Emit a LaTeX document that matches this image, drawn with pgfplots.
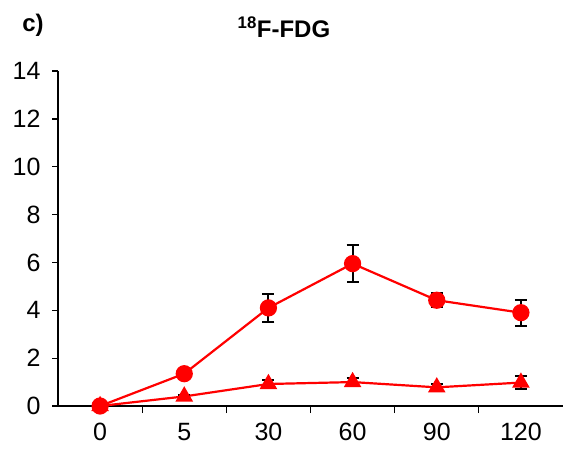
\documentclass[border=0pt]{standalone}
\usepackage{fontspec}
\setmainfont{Liberation Sans}
\usepackage{pgfplots}
\pgfplotsset{compat=1.18}
\usetikzlibrary{calc}
\definecolor{fdgred}{RGB}{255,0,0}

\begin{document}
\begin{tikzpicture}
\begin{axis}[
  scale only axis, width=505pt, height=335pt,
  xmin=-0.5, xmax=5.5, ymin=0, ymax=14,
  axis lines*=left, axis line style={line width=1.3pt},
  xtick={0,...,5}, xticklabels={0,5,30,60,90,120},
  minor xtick={0.5,1.5,...,4.5},
  ytick={0,2,...,14},
  tick align=outside, major tick length=6pt, minor tick length=7pt,
  tick style={line width=1.3pt, black},
  major x tick style={draw=none},
  ticklabel style={font=\fontsize{25}{29}\selectfont},
  /pgf/number format/assume math mode=true,
  yticklabel style={xshift=-8pt},
  xticklabel style={yshift=-8pt},
  title={\textsuperscript{18}F-FDG},
  title style={at={(0.4475,1)}, anchor=center, yshift=38pt,
               font=\fontsize{24}{28}\selectfont\bfseries},
  clip=false,
]
\addplot[fdgred, line width=2.2pt, mark=*, mark size=7.5pt,
  mark options={fill=fdgred, draw=fdgred},
  error bars/.cd, y dir=both, y explicit,
  error bar style={black, line width=2pt},
  error mark options={rotate=90, mark size=6pt, black, line width=2pt}]
  coordinates {
  (0,0) +- (0,0)
  (1,1.35) +- (0,0.05)
  (2,4.1) +- (0,0.58)
  (3,5.95) +- (0,0.76)
  (4,4.42) +- (0,0.3)
  (5,3.9) +- (0,0.55)
};
\addplot[fdgred, line width=2.2pt, mark=triangle*, mark size=8pt,
  mark options={fill=fdgred, draw=fdgred},
  error bars/.cd, y dir=both, y explicit,
  error bar style={black, line width=2pt},
  error mark options={rotate=90, mark size=6pt, black, line width=2pt}]
  coordinates {
  (0,0) +- (0,0)
  (1,0.4) +- (0,0.05)
  (2,0.92) +- (0,0.15)
  (3,1.0) +- (0,0.15)
  (4,0.78) +- (0,0.12)
  (5,0.98) +- (0,0.28)
};
\end{axis}
\node[font=\fontsize{24}{28}\selectfont\bfseries]
  at ($(current axis.north west)+(-25pt,46pt)$) {c)};
\pgfresetboundingbox
\path[use as bounding box] ($(current axis.south west)+(-58pt,-50pt)$)
  rectangle ($(current axis.north east)+(0pt,71pt)$);
\end{tikzpicture}
\end{document}
